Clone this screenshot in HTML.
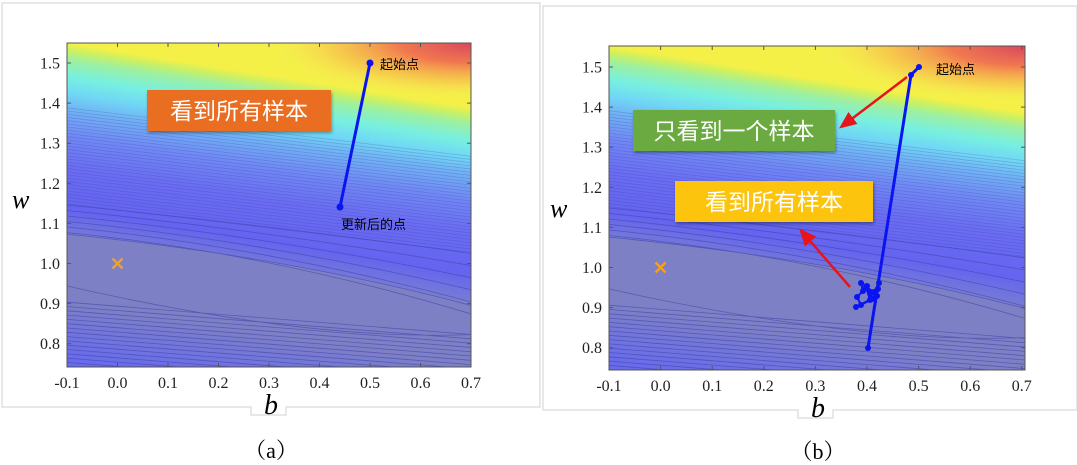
<!DOCTYPE html>
<html><head><meta charset="utf-8"><style>
body{margin:0;background:#fff;width:1077px;height:465px;overflow:hidden;font-family:"Liberation Serif","Noto Serif CJK SC",serif}
svg{position:absolute;left:0;top:0}
</style></head><body>
<svg id="s" width="1077" height="465" xmlns="http://www.w3.org/2000/svg">
<defs>
<radialGradient id="r" cx="1" cy="0" r="0.5" gradientTransform="translate(1,0) scale(1,0.35) translate(-1,0)">
<stop offset="0" stop-color="#d84860" stop-opacity="1"/>
<stop offset="0.35" stop-color="#f06a50" stop-opacity="0.9"/>
<stop offset="0.7" stop-color="#f8b050" stop-opacity="0.5"/>
<stop offset="1" stop-color="#f8f060" stop-opacity="0"/>
</radialGradient>
<filter id="sh"><feDropShadow dx="1" dy="2" stdDeviation="1.5" flood-opacity="0.35"/></filter>
<marker id="ar" markerWidth="8" markerHeight="8" refX="4" refY="4" orient="auto"><path d="M0,1 L7,4 L0,7 z" fill="#e8141c"/></marker>
</defs>
<path d="M2,3 H540 V407 H286 V415 H251 V407 H2 Z" fill="none" stroke="#e0e0e0" stroke-width="1.5"/>
<path d="M543,6 H1077 V410 H833 V418 H798 V410 H543 Z" fill="none" stroke="#e0e0e0" stroke-width="1.5"/>
<g id="p1"></g><g id="p2"></g>
</svg>
<script>
const NS="http://www.w3.org/2000/svg";
function el(p,t,a,txt){const e=document.createElementNS(NS,t);for(const k in a)e.setAttribute(k,a[k]);if(txt!==undefined)e.textContent=txt;p.appendChild(e);return e;}
const defs=document.querySelector('defs');
const stops=[[0,'#f4f048'],[0.02,'#cef060'],[0.05,'#9cf0a0'],[0.1,'#78f0e0'],[0.15,'#70d8f4'],[0.2,'#70b2f4'],[0.28,'#7088f4'],[0.38,'#6a6cf2'],[0.5,'#6464f0'],[0.57,'#7478d8'],[0.6,'#7d80c4'],[0.78,'#7d80c4'],[0.88,'#7074de'],[1,'#6266f4']];
function panel(g,x0,y0,x1,y1,x01,y15,sx,sy){
 const W=x1-x0,H=y1-y0;
 const lg=el(defs,'linearGradient',{id:'g'+x0,gradientUnits:'userSpaceOnUse',x1:x0,y1:y0,x2:x0-H*0.16,y2:y0+H});
 stops.forEach(s=>el(lg,'stop',{offset:s[0],'stop-color':s[1]}));
 const cp=el(g,'clipPath',{id:'c'+x0});el(cp,'rect',{x:x0,y:y0,width:W,height:H});
 const cg=el(g,'g',{'clip-path':`url(#c${x0})`});
 el(cg,'rect',{x:x0,y:y0,width:W,height:H,fill:`url(#g${x0})`});
 el(cg,'rect',{x:x0,y:y0,width:W,height:H,fill:'url(#r)'});
 const Y=f=>y0+H*f;
 el(cg,'path',{d:`M${x0},${Y(0.59)} Q${x0+W*0.55},${Y(0.66)} ${x1},${Y(0.81)} L${x1},${Y(0.9)} Q${x0+W*0.6},${Y(0.92)} ${x0},${Y(0.75)} Z`,fill:'#7d80c4'});
 let d='',d2='';
 for(let y=Y(0.2);y<Y(0.5);y+=3.2){d+=`M${x0},${y} L${x1},${y+W*0.12}`;}
 for(let y=Y(0.5);y<Y(0.585);y+=5.5){d2+=`M${x0},${y} Q${x0+W*0.5},${y+W*0.05} ${x1},${y+W*0.12+(y-Y(0.5))*1.2}`;}
 d2+=`M${x0},${Y(0.59)} Q${x0+W*0.55},${Y(0.66)} ${x1},${Y(0.81)}`;
 d2+=`M${x0},${Y(0.75)} Q${x0+W*0.6},${Y(0.92)} ${x1},${Y(0.9)}`;
 for(let y=Y(0.8);y<y1;y+=4.3){d2+=`M${x0},${y} L${x1},${y+W*0.08}`;}
 el(cg,'path',{d:d,stroke:'#3a3aa0','stroke-width':0.6,'stroke-opacity':0.3,fill:'none'});
 el(cg,'path',{d:d2,stroke:'#4040a8','stroke-width':0.8,'stroke-opacity':0.6,fill:'none'});
 el(g,'rect',{x:x0,y:y0,width:W,height:H,fill:'none',stroke:'#555','stroke-width':1});
 for(let i=0;i<=8;i++){const x=x01+i*sx*0.1;el(g,'line',{x1:x,y1:y1,x2:x,y2:y1-4,stroke:'#555'});el(g,'line',{x1:x,y1:y0,x2:x,y2:y0+4,stroke:'#555'});
  el(g,'text',{x:x,y:y1+21,'text-anchor':'middle','font-size':16,fill:'#222'},(i==0?'-0.1':((i-1)/10).toFixed(1)));}
 for(let i=0;i<=7;i++){const y=y15+i*sy*0.1;el(g,'line',{x1:x0,y1:y,x2:x0+4,y2:y,stroke:'#555'});el(g,'line',{x1:x1,y1:y,x2:x1-4,y2:y,stroke:'#555'});
  el(g,'text',{x:x0-7,y:y+5.5,'text-anchor':'end','font-size':16,fill:'#222'},(1.5-i/10).toFixed(1));}
 const bx=x01+0.1*sx, wy=y15+0.5*sy;
 el(g,'path',{d:`M${bx-5},${wy-5}L${bx+5},${wy+5}M${bx+5},${wy-5}L${bx-5},${wy+5}`,stroke:'#f5a020','stroke-width':2.4});
}
const p1=document.getElementById('p1'),p2=document.getElementById('p2');
const cj='Noto Sans CJK SC, sans-serif';
panel(p1,67,43,471,367,67,63,505,401);
el(p1,'text',{x:12,y:208,'font-size':26,'font-style':'italic'},'w');
el(p1,'text',{x:264,y:414,'font-size':28,'font-style':'italic'},'b');
el(p1,'text',{x:271,y:458,'text-anchor':'middle','font-size':22},'（a）');
el(p1,'line',{x1:370,y1:63,x2:340,y2:207,stroke:'#0a14f0','stroke-width':3});
el(p1,'circle',{cx:370,cy:63,r:3.5,fill:'#0a14f0'});el(p1,'circle',{cx:340,cy:207,r:3.5,fill:'#0a14f0'});
el(p1,'text',{x:380,y:69,'font-size':13,'font-family':cj},'起始点');
el(p1,'text',{x:341,y:229,'font-size':13,'font-family':cj},'更新后的点');
el(p1,'rect',{x:147,y:90,width:184,height:41,fill:'#ea6e22',filter:'url(#sh)'});
el(p1,'text',{x:239,y:119,'text-anchor':'middle','font-size':23,fill:'#fff','font-family':cj},'看到所有样本');

panel(p2,609,46,1025,370,609,67,516,401);
el(p2,'text',{x:550,y:217,'font-size':26,'font-style':'italic'},'w');
el(p2,'text',{x:811,y:417,'font-size':28,'font-style':'italic'},'b');
el(p2,'text',{x:818,y:459,'text-anchor':'middle','font-size':22},'（b）');
const pts=[[919,67],[911,75],[868,348],[879,283],[874,292],[866,287],[870,300],[861,305],[857,297],[863,291],[861,283],[867,286],[872,299],[878,289],[871,293],[877,296],[856,307]];
el(p2,'polyline',{points:pts.slice(0,3).map(p=>p.join(',')).join(' '),fill:'none',stroke:'#0a14f0','stroke-width':3});
el(p2,'polyline',{points:pts.slice(2).map(p=>p.join(',')).join(' '),fill:'none',stroke:'#0a14f0','stroke-width':2});
pts.forEach(p=>el(p2,'circle',{cx:p[0],cy:p[1],r:3,fill:'#0a14f0'}));
el(p2,'text',{x:936,y:74,'font-size':13,'font-family':cj},'起始点');
el(p2,'line',{x1:907,y1:77,x2:845,y2:124,stroke:'#e8141c','stroke-width':2.5,'marker-end':'url(#ar)'});
el(p2,'line',{x1:850,y1:287,x2:804,y2:234,stroke:'#e8141c','stroke-width':2.5,'marker-end':'url(#ar)'});
el(p2,'rect',{x:633,y:110,width:202,height:41,fill:'#6aaa40',filter:'url(#sh)'});
el(p2,'text',{x:734,y:139,'text-anchor':'middle','font-size':23,fill:'#fff','font-family':cj},'只看到一个样本');
el(p2,'rect',{x:675,y:181,width:198,height:41,fill:'#fcc40a',filter:'url(#sh)'});
el(p2,'text',{x:774,y:210,'text-anchor':'middle','font-size':23,fill:'#fff','font-family':cj},'看到所有样本');
</script>
</body></html>
